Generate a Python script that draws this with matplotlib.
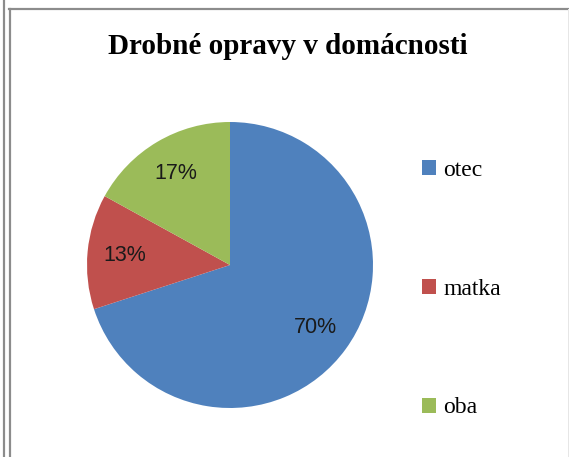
import matplotlib
matplotlib.use("Agg")
import matplotlib.pyplot as plt
from matplotlib.lines import Line2D
from matplotlib.patches import Patch

title = "Drobné opravy v domácnosti"
categories = ["otec", "matka", "oba"]
values = [70, 13, 17]
colors = ["#4F81BD", "#C0504D", "#9BBB59"]

W, H = 569, 457
fig = plt.figure(figsize=(W / 100, H / 100), dpi=100)
fig.patch.set_facecolor("white")

def px(x, y):
    return x / W, 1 - y / H

# borders
for x0, x1, y0, y1, c, lw in [
    (4, 4, 0, H, "#8c8c8c", 2.2),
    (10, 10, 9, H, "#8c8c8c", 2.2),
    (9, W, 9, 9, "#8c8c8c", 2.2),
    (567.5, 567.5, 9, H, "#e6e6e6", 1.0),
]:
    a = px(x0, y0); b = px(x1, y1)
    fig.add_artist(Line2D([a[0], b[0]], [a[1], b[1]], color=c, lw=lw * 0.72, transform=fig.transFigure))

cx, cy, r = 230, 265, 143
ax = fig.add_axes([(cx - r) / W, 1 - (cy + r) / H, 2 * r / W, 2 * r / H])
wedges, texts, autotexts = ax.pie(
    values, colors=colors, startangle=90, counterclock=False,
    autopct=lambda p: f"{p:.0f}%", pctdistance=0.74,
    textprops=dict(fontsize=15.5, family="Liberation Sans", color="#1a1a1a"),
    radius=1.0,
)
ax.set_xlim(-1, 1); ax.set_ylim(-1, 1)
ax.set_aspect("equal")
ax.axis("off")

tx, ty = px(288, 46)
fig.text(tx, ty, title, ha="center", va="center", fontsize=21,
         fontweight="bold", family="Liberation Serif", color="black")

handles = [Patch(facecolor=c, edgecolor="none") for c in colors]
leg = fig.legend(handles, categories, loc="center left", bbox_to_anchor=px(410, 289),
                 frameon=False, prop=dict(family="Liberation Serif", size=17),
                 handlelength=0.6, handleheight=0.6, handletextpad=0.3,
                 labelspacing=4.15, borderpad=0)

fig.savefig("out.png", dpi=100, facecolor="white")
